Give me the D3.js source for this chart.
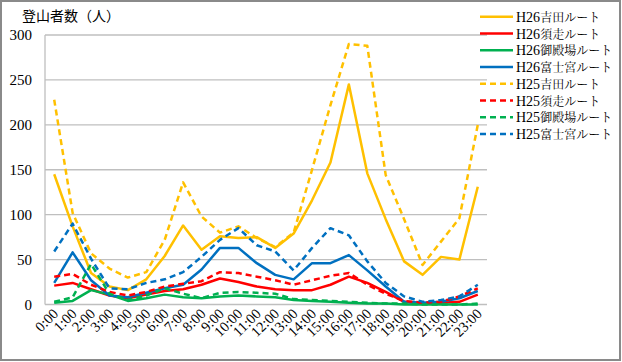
<!DOCTYPE html>
<html><head><meta charset="utf-8">
<script src="https://cdn.jsdelivr.net/npm/d3@7"></script>
<style>body{margin:0;background:#fff}svg{display:block}</style>
</head><body>
<svg id="c" width="622" height="362"></svg>
<script>
const hours = ["0:00","1:00","2:00","3:00","4:00","5:00","6:00","7:00","8:00","9:00","10:00","11:00","12:00","13:00","14:00","15:00","16:00","17:00","18:00","19:00","20:00","21:00","22:00","23:00"];
const yTicks = [0,50,100,150,200,250,300];
const seriesNames = ["H26吉田ルート","H26須走ルート","H26御殿場ルート","H26富士宮ルート","H25吉田ルート","H25須走ルート","H25御殿場ルート","H25富士宮ルート"];
const h26Yoshida   = [145, 87, 35, 20, 16, 28, 54, 88, 61, 76, 74, 75, 63, 79, 116, 158, 245, 146, 95, 48, 33, 53, 50, 131];
const h26Subashiri = [21, 24, 17, 10, 7, 11, 15, 17, 22, 29, 25, 20, 17, 16, 16, 22, 31, 24, 14, 3, 1, 2, 3, 11];
const h26Gotemba   = [2, 4, 16, 11, 4, 7, 11, 8, 7, 9, 10, 9, 8, 5, 4, 3, 2, 1, 1, 0, 0, 0, 0, 0];
const h26Fuji      = [24, 58, 27, 10, 8, 13, 18, 22, 39, 63, 63, 46, 33, 28, 46, 46, 55, 38, 20, 3, 2, 3, 7, 15];
const h25Yoshida   = [228, 102, 57, 40, 30, 36, 72, 136, 98, 80, 87, 74, 64, 80, 150, 222, 290, 288, 144, 95, 44, 70, 96, 200];
const h25Subashiri = [31, 34, 22, 14, 10, 14, 20, 23, 26, 36, 35, 31, 27, 22, 27, 32, 35, 22, 12, 4, 2, 3, 9, 18];
const h25Gotemba   = [3, 8, 45, 12, 5, 10, 18, 12, 7, 13, 14, 13, 12, 6, 5, 4, 3, 2, 1, 1, 0, 0, 0, 1];
const h25Fuji      = [59, 90, 51, 18, 17, 24, 28, 36, 53, 72, 85, 66, 59, 38, 63, 85, 77, 48, 24, 9, 3, 5, 9, 22];

const seriesValues = [h26Yoshida,h26Subashiri,h26Gotemba,h26Fuji,h25Yoshida,h25Subashiri,h25Gotemba,h25Fuji];
const colors = ["#FFC000","#FF0000","#00B050","#0070C0","#FFC000","#FF0000","#00B050","#0070C0"];
const dashed = [false,false,false,false,true,true,true,true];

const svg = d3.select("#c");
svg.append("rect").attr("x",1).attr("y",1).attr("width",619).attr("height",359)
  .attr("fill","#fff").attr("stroke","#8a8a8a").attr("stroke-width",2);

const x = d3.scaleBand().domain(hours).range([45,487]);
const y = d3.scaleLinear().domain([0,300]).range([304.5,35]);
const px = h => x(h) + x.bandwidth()/2;

// gridlines
svg.append("g").selectAll("line").data(yTicks).join("line")
  .attr("x1",45).attr("x2",487).attr("y1",d=>y(d)).attr("y2",d=>y(d))
  .attr("stroke","#bfbfbf").attr("stroke-width",1.3);
svg.append("line").attr("x1",45).attr("x2",45).attr("y1",35).attr("y2",304.5)
  .attr("stroke","#bfbfbf").attr("stroke-width",1.3);

// y axis labels
const ya = svg.append("g").attr("transform","translate(45,0)")
  .call(d3.axisLeft(y).tickValues(yTicks).tickSize(0).tickPadding(13));
ya.select(".domain").remove();
ya.selectAll("text").attr("font-family","'Liberation Serif','DejaVu Serif',serif")
  .attr("font-size",15).attr("fill","#000");

// x axis labels
const xa = svg.append("g").attr("transform","translate(0,304.5)")
  .call(d3.axisBottom(x).tickSize(0));
xa.select(".domain").remove();
xa.selectAll("text").attr("font-family","'Liberation Serif','DejaVu Serif',serif")
  .attr("font-size",14.5).attr("fill","#000")
  .attr("text-anchor","end").attr("dy",0).attr("y",0)
  .attr("transform","translate(5,10) rotate(-45)");

// title
svg.append("text").attr("x",22).attr("y",21).text("登山者数（人）")
  .attr("font-family","'Noto Sans CJK JP',sans-serif").attr("font-size",14).attr("fill","#000");

// lines
const line = d3.line().x((d,i)=>px(hours[i])).y(d=>y(d));
seriesValues.forEach((vals,k)=>{
  svg.append("path").datum(vals).attr("d",line).attr("fill","none")
    .attr("stroke",colors[k]).attr("stroke-width",2.5)
    .attr("stroke-linejoin","round")
    .attr("stroke-dasharray",dashed[k]?"6,4":null);
});

// legend
const lg = svg.append("g");
seriesNames.forEach((n,k)=>{
  const yy = 16.8 + k*16.75;
  lg.append("line").attr("x1",480).attr("x2",513).attr("y1",yy).attr("y2",yy)
    .attr("stroke",colors[k]).attr("stroke-width",2.5)
    .attr("stroke-dasharray",dashed[k]?"6,4":null);
  const t = lg.append("text").attr("x",516).attr("y",yy+5).attr("fill","#000");
  t.append("tspan").text(n.slice(0,3))
    .attr("font-family","'Liberation Serif',serif").attr("font-size",14);
  t.append("tspan").text(n.slice(3))
    .attr("font-family","'Noto Serif CJK JP','Noto Sans CJK JP',serif").attr("font-size",12);
});
</script>
</body></html>
